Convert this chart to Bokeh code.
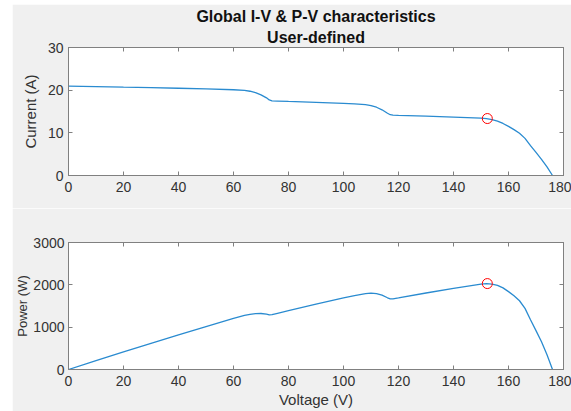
from bokeh.plotting import figure
from bokeh.models import LinearAxis, Title, Range1d, CustomJSTickFormatter
from bokeh.layouts import column
from bokeh.embed import file_html
from bokeh.resources import INLINE

# ---- data ----
voltage = [0, 10, 20, 30, 40, 50, 60, 64, 66, 68, 70, 72, 73, 74, 76, 80, 90, 100,
           104, 108, 110, 112, 114, 116, 117, 118, 120, 130, 140, 150, 152, 154, 156,
           158, 160, 162, 164, 166, 168, 170, 172, 174, 176]
current = [20.95, 20.85, 20.7, 20.6, 20.45, 20.3, 20.1, 19.95, 19.75, 19.4, 18.9, 18.2,
           17.7, 17.5, 17.45, 17.35, 17.15, 16.9, 16.8, 16.6, 16.4, 16.0, 15.4, 14.6,
           14.25, 14.15, 14.1, 13.9, 13.7, 13.45, 13.35, 13.1, 12.75, 12.2, 11.5, 10.75,
           9.9, 8.7, 7.0, 5.4, 3.8, 2.0, 0.0]
power = [0, 208, 414, 618, 818, 1015, 1206, 1277, 1303, 1319, 1323, 1310, 1292, 1295,
         1326, 1388, 1543, 1690, 1747, 1793, 1804, 1792, 1756, 1694, 1667, 1670, 1692,
         1807, 1918, 2017, 2029, 2017, 1989, 1928, 1840, 1742, 1624, 1444, 1176, 918,
         654, 348, 0]
mpp_v = [152.3]
mpp_i = [13.35]
mpp_p = [2030]

x_ticks = [0, 20, 40, 60, 80, 100, 120, 140, 160, 180]
i_ticks = [0, 10, 20, 30]
p_ticks = [0, 1000, 2000, 3000]

FONT = "Liberation Sans"
LINE = "#2a8bd0"
AXC = "#808080"
TXT = "#333333"
BG = "#f0f0f0"


def box_axis(ticks):
    return LinearAxis(ticker=ticks, formatter=CustomJSTickFormatter(code="return ''"),
                      major_label_text_font_size="1px", major_tick_in=4, major_tick_out=0,
                      major_label_standoff=0, minor_tick_line_color=None,
                      axis_line_color=AXC, major_tick_line_color=AXC)


def style(p, yticks):
    p.background_fill_color = "white"
    p.border_fill_color = BG
    p.outline_line_color = AXC
    p.grid.visible = False
    for ax in p.xaxis + p.yaxis:
        ax.major_tick_in = 4
        ax.major_tick_out = 0
        ax.minor_tick_line_color = None
        ax.axis_line_color = AXC
        ax.major_tick_line_color = AXC
        ax.major_label_text_font = FONT
        ax.major_label_text_font_size = "14px"
        ax.major_label_text_color = TXT
        ax.axis_label_text_font = FONT
        ax.axis_label_text_font_size = "15px"
        ax.axis_label_text_font_style = "normal"
        ax.axis_label_text_color = TXT
        ax.axis_label_standoff = 0
    p.xaxis.ticker = x_ticks
    p.yaxis.ticker = yticks
    p.xaxis.major_label_standoff = 6
    p.yaxis.major_label_standoff = 5
    p.add_layout(box_axis(x_ticks), "above")
    p.add_layout(box_axis(yticks), "right")


p1 = figure(width=559, height=204, x_range=Range1d(0, 180), y_range=Range1d(0, 30),
            output_backend="svg", toolbar_location=None,
            min_border_left=55, min_border_right=8, min_border_top=43, min_border_bottom=33)
style(p1, i_ticks)
p1.add_layout(Title(text="User-defined", align="center", text_font=FONT,
                    text_font_size="16px", text_font_style="bold", text_color="#111111",
                    standoff=4, offset=0), "above")
p1.add_layout(Title(text="Global I-V & P-V characteristics", align="center", text_font=FONT,
                    text_font_size="16px", text_font_style="bold", text_color="#111111",
                    standoff=0, offset=0), "above")
p1.line(voltage, current, line_color=LINE, line_width=1.3)
p1.scatter(mpp_v, mpp_i, marker="circle", size=10, fill_color=None, line_color="red",
           line_width=1)
p1.left[0].axis_label = "Current (A)"
p1.left[0].axis_label_standoff = 6

p2 = figure(width=559, height=203, x_range=Range1d(0, 180), y_range=Range1d(0, 3000),
            output_backend="svg", toolbar_location=None,
            min_border_left=55, min_border_right=8, min_border_top=34, min_border_bottom=42)
style(p2, p_ticks)
p2.line(voltage, power, line_color=LINE, line_width=1.3)
p2.scatter(mpp_v, mpp_p, marker="circle", size=10, fill_color=None, line_color="red",
           line_width=1)
p2.left[0].axis_label = "Power (W)"
p2.left[0].axis_label_text_font_size = "13px"
p2.left[0].major_label_standoff = 4
p2.below[0].axis_label = "Voltage (V)"
p2.below[0].axis_label_standoff = 2
p2.below[0].major_label_standoff = 6

layout = column(p1, p2, spacing=0, margin=(4, 0, 0, 12))
open("out.html", "w").write(file_html(layout, INLINE))
